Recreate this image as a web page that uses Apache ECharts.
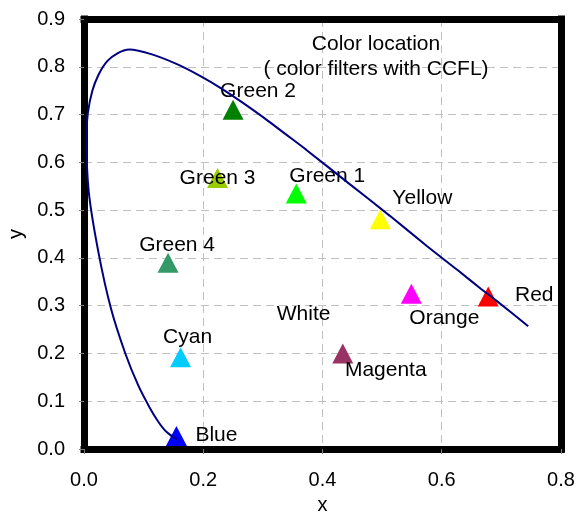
<!DOCTYPE html>
<html>
<head>
<meta charset="utf-8">
<script src="https://cdn.jsdelivr.net/npm/echarts@6/dist/echarts.min.js"></script>
<style>
html,body{margin:0;padding:0;background:#fff;}
#chart{width:577px;height:513px;}
</style>
</head>
<body>
<div id="chart"></div>
<script>
// Spectral locus (close to CIE 1931 locus)
var locusX = [0.156, 0.144, 0.135, 0.124, 0.110, 0.091, 0.069, 0.045, 0.024, 0.008, 0.004, 0.014, 0.039, 0.076, 0.114, 0.155, 0.193, 0.230, 0.266, 0.302, 0.337, 0.373, 0.444, 0.513, 0.575, 0.627, 0.666, 0.692, 0.745];
var locusY = [0.020, 0.030, 0.040, 0.058, 0.087, 0.133, 0.201, 0.295, 0.413, 0.538, 0.655, 0.750, 0.812, 0.836, 0.826, 0.806, 0.782, 0.755, 0.725, 0.693, 0.660, 0.626, 0.556, 0.488, 0.425, 0.374, 0.335, 0.310, 0.257];

// Colour points
var pointNames = ["Green 2", "Green 3", "Green 1", "Yellow", "Green 4", "Cyan", "Blue", "White", "Orange", "Red", "Magenta"];
var pointX = [0.250, 0.224, 0.356, 0.497, 0.141, 0.162, 0.155, 0.313, 0.549, 0.678, 0.434];
var pointY = [0.710, 0.567, 0.535, 0.481, 0.390, 0.192, 0.027, 0.329, 0.325, 0.319, 0.200];

var xTicks = [0.0, 0.2, 0.4, 0.6, 0.8];
var yTicks = [0.0, 0.1, 0.2, 0.3, 0.4, 0.5, 0.6, 0.7, 0.8, 0.9];

// styles (kept apart from data)
var pointColors = ["#008000", "#99CC00", "#00FF00", "#FFFF00", "#339966", "#00CCFF", "#0000FF", "#FFFFFF", "#FF00FF", "#FF0000", "#993366"];
var labelOffsets = [[25,-19],[0,0],[31,-17],[42,-21],[9,-17],[7,-20],[40,-1],[33,22],[33,24],[46,-1],[43,17]];

var FONT = "Liberation Sans";
var FS = 20;
var LFS = 21;

var locusData = locusX.map(function (x, i) { return [x, locusY[i]]; });
var pointData = pointNames.map(function (n, i) {
  return {
    name: n,
    value: [pointX[i], pointY[i]],
    itemStyle: { color: pointColors[i], opacity: 1 },
    label: { offset: labelOffsets[i] }
  };
});

var frameLine = { show: true, onZero: false, lineStyle: { color: '#000', width: 7, cap: 'square' } };

var chart = echarts.init(document.getElementById('chart'), null, { renderer: 'canvas' });
chart.setOption({
  backgroundColor: '#ffffff',
  animation: false,
  title: {
    text: 'Color location\n( color filters with CCFL)',
    left: 371,
    top: 27,
    textAlign: 'center',
    textStyle: { fontFamily: FONT, fontSize: LFS, fontWeight: 'normal', color: '#000', lineHeight: 25 }
  },
  grid: {
    left: 84, right: 16, top: 19, bottom: 64,
    show: false,
    containLabel: false,
    outerBoundsMode: 'none'
  },
  xAxis: [{
    type: 'value', min: 0, max: 0.8, interval: 0.2, position: 'bottom',
    name: 'x', nameLocation: 'middle', nameGap: 46,
    nameTextStyle: { fontFamily: FONT, fontSize: FS, color: '#000' },
    axisLine: frameLine,
    axisTick: { show: true, length: 5, lineStyle: { color: '#808080' } },
    axisLabel: {
      margin: 21, fontFamily: FONT, fontSize: FS, color: '#000',
      formatter: function (v) { return v.toFixed(1); }
    },
    splitLine: { show: true, lineStyle: { color: '#c0c0c0', type: [8, 5], width: 1 } }
  }, {
    type: 'value', min: 0, max: 0.8, interval: 0.2, position: 'top',
    axisLine: frameLine, axisTick: { show: false }, axisLabel: { show: false }, splitLine: { show: false }
  }],
  yAxis: [{
    type: 'value', min: 0, max: 0.9, interval: 0.1, position: 'left',
    name: 'y', nameLocation: 'middle', nameGap: 55,
    nameTextStyle: { fontFamily: FONT, fontSize: FS, color: '#000' },
    axisLine: frameLine,
    axisTick: { show: true, length: 5, lineStyle: { color: '#808080' } },
    axisLabel: {
      margin: 19, fontFamily: FONT, fontSize: FS, color: '#000',
      formatter: function (v) { return v.toFixed(1); }
    },
    splitLine: { show: true, lineStyle: { color: '#c0c0c0', type: [8, 5], width: 1 } }
  }, {
    type: 'value', min: 0, max: 0.9, interval: 0.1, position: 'right',
    axisLine: frameLine, axisTick: { show: false }, axisLabel: { show: false }, splitLine: { show: false }
  }],
  series: [
    {
      type: 'scatter',
      data: pointData,
      symbol: 'triangle',
      symbolSize: [21, 20],
      z: 3,
      itemStyle: { opacity: 1 },
      label: {
        show: true, position: 'inside',
        formatter: '{b}',
        fontFamily: FONT, fontSize: LFS, color: '#000', opacity: 1,
        textBorderWidth: 0
      }
    },
    {
      type: 'line',
      data: locusData,
      showSymbol: false,
      symbol: 'none',
      smooth: 0.3,
      z: 5,
      lineStyle: { color: '#000080', width: 2 }
    }
  ]
});
</script>
</body>
</html>
